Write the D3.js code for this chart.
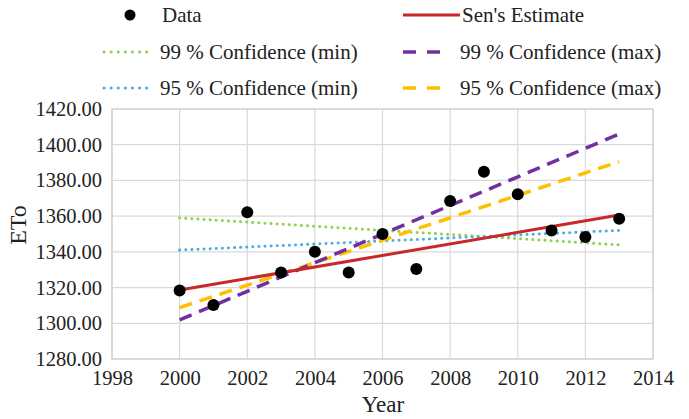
<!DOCTYPE html>
<html><head><meta charset="utf-8">
<script src="https://cdn.jsdelivr.net/npm/d3@7"></script>
<style>body{margin:0;background:#fff}svg{display:block}svg text{font-family:'Liberation Serif','Times New Roman',Tinos,'DejaVu Serif',serif !important;fill:#222}</style>
</head><body><svg id="c" width="689" height="419"></svg>
<script>
const years = [2000,2001,2002,2003,2004,2005,2006,2007,2008,2009,2010,2011,2012,2013];
const eto = [1318.3,1310.3,1362.2,1328.4,1340,1328.4,1350,1330.4,1368.5,1384.8,1372.3,1352,1348.3,1358.5];
const lineYears = [2000,2013];
const sens = [1318.6,1360.6];
const conf99min = [1359,1343.9];
const conf99max = [1301.9,1406];
const conf95min = [1341,1352];
const conf95max = [1308.8,1390.5];
const xTicks = [1998,2000,2002,2004,2006,2008,2010,2012,2014];
const yTicks = [1280,1300,1320,1340,1360,1380,1400,1420];

const FONT = "'Liberation Serif','Times New Roman',Tinos,'DejaVu Serif',serif";
const svg = d3.select("#c");
const L=112,R=653,T=109,B=359;
const x = d3.scaleLinear().domain([1998,2014]).range([L,R]);
const y = d3.scaleLinear().domain([1280,1420]).range([B,T]);

// grid
svg.append("g").selectAll("line").data(xTicks).join("line")
  .attr("x1",d=>x(d)).attr("x2",d=>x(d)).attr("y1",T).attr("y2",B)
  .attr("stroke","#d9d9d9").attr("stroke-width",1.2);
svg.append("g").selectAll("line").data(yTicks).join("line")
  .attr("x1",L).attr("x2",R).attr("y1",d=>y(d)).attr("y2",d=>y(d))
  .attr("stroke","#d9d9d9").attr("stroke-width",1.2);
svg.append("rect").attr("x",L).attr("y",T).attr("width",R-L).attr("height",B-T)
  .attr("fill","none").attr("stroke","#cfcfcf").attr("stroke-width",1.2);

// axes
const xa = svg.append("g").attr("transform",`translate(0,${B})`)
  .call(d3.axisBottom(x).tickValues(xTicks).tickFormat(d3.format("d")).tickSize(0).tickPadding(11));
xa.attr("font-family",FONT);
xa.select(".domain").remove();
xa.selectAll("text").style("font-size","20.5px").attr("fill","#222");
const ya = svg.append("g").attr("transform",`translate(${L},0)`)
  .call(d3.axisLeft(y).tickValues(yTicks).tickFormat(d3.format(".2f")).tickSize(0).tickPadding(10));
ya.attr("font-family",FONT);
ya.select(".domain").remove();
ya.selectAll("text").style("font-size","20.5px").attr("fill","#222");

svg.append("text").attr("x",383).attr("y",412).attr("text-anchor","middle").style("font-size","23px").text("Year");
svg.append("text").attr("transform","translate(26,225) rotate(-90)").attr("text-anchor","middle").style("font-size","24px").text("ETo");

const series = [
  {vals:conf99min, color:"#92d050", dash:"0.1 6", w:3, cap:"round"},
  {vals:conf95min, color:"#4aaee0", dash:"0.1 6", w:3, cap:"round"},
  {vals:conf95max, color:"#ffc000", dash:"13 8", w:3.5, cap:"butt"},
  {vals:conf99max, color:"#7030a0", dash:"13 8", w:3.5, cap:"butt"},
  {vals:sens, color:"#c8282a", dash:null, w:3, cap:"butt"}
];
const line = d3.line().x((d,i)=>x(lineYears[i])).y(d=>y(d));
series.forEach(s=>{
  svg.append("path").attr("d",line(s.vals)).attr("fill","none").attr("stroke",s.color)
    .attr("stroke-width",s.w).attr("stroke-dasharray",s.dash).attr("stroke-linecap",s.cap);
});

svg.append("g").selectAll("circle").data(years).join("circle")
  .attr("cx",d=>x(d)).attr("cy",(d,i)=>y(eto[i])).attr("r",6).attr("fill","#000");

// legend
const lg = svg.append("g");
const fs = "21px";
lg.append("circle").attr("cx",130).attr("cy",15).attr("r",5.5).attr("fill","#000");
lg.append("text").attr("x",162).attr("y",15).attr("dy","0.35em").style("font-size",fs).text("Data");
lg.append("line").attr("x1",403).attr("x2",460).attr("y1",15).attr("y2",15).attr("stroke","#c8282a").attr("stroke-width",3);
lg.append("text").attr("x",462).attr("y",15).attr("dy","0.35em").style("font-size",fs).text("Sen's Estimate");
lg.append("line").attr("x1",104).attr("x2",153).attr("y1",52).attr("y2",52).attr("stroke","#92d050").attr("stroke-width",3).attr("stroke-dasharray","0.1 7").attr("stroke-linecap","round");
lg.append("text").attr("x",160).attr("y",52).attr("dy","0.35em").style("font-size",fs).text("99 % Confidence (min)");
lg.append("line").attr("x1",403).attr("x2",440).attr("y1",52).attr("y2",52).attr("stroke","#7030a0").attr("stroke-width",3.5).attr("stroke-dasharray","13 11");
lg.append("text").attr("x",460).attr("y",52).attr("dy","0.35em").style("font-size",fs).text("99 % Confidence (max)");
lg.append("line").attr("x1",104).attr("x2",153).attr("y1",88).attr("y2",88).attr("stroke","#4aaee0").attr("stroke-width",3).attr("stroke-dasharray","0.1 7").attr("stroke-linecap","round");
lg.append("text").attr("x",160).attr("y",88).attr("dy","0.35em").style("font-size",fs).text("95 % Confidence (min)");
lg.append("line").attr("x1",403).attr("x2",440).attr("y1",88).attr("y2",88).attr("stroke","#ffc000").attr("stroke-width",3.5).attr("stroke-dasharray","13 11");
lg.append("text").attr("x",460).attr("y",88).attr("dy","0.35em").style("font-size",fs).text("95 % Confidence (max)");
</script></body></html>
